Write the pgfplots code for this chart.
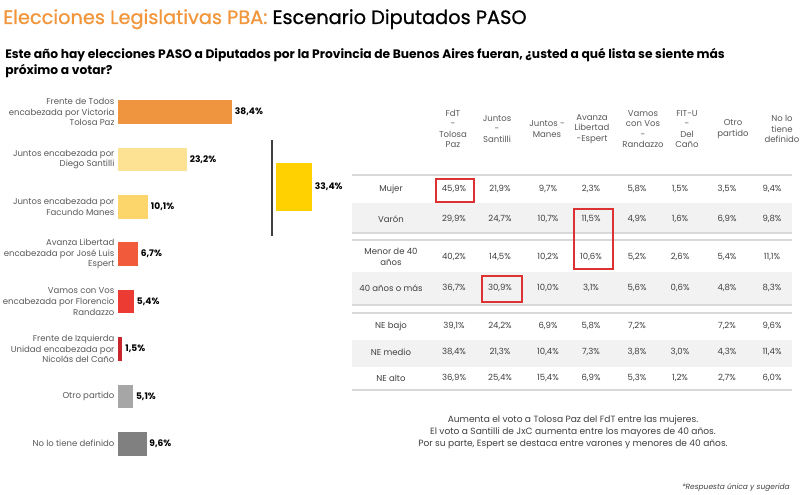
\documentclass[border=0pt]{standalone}
\usepackage{pgfplots}
\pgfplotsset{compat=1.18}
\usepackage{fontspec}
\setmainfont{Poppins}
\newfontfamily\titlefont[FakeBold=0.8]{Poppins}
\definecolor{titleorange}{RGB}{242,150,60}
\definecolor{cFdT}{RGB}{240,149,63}
\definecolor{cSant}{RGB}{253,226,147}
\definecolor{cManes}{RGB}{252,214,107}
\definecolor{cEspert}{RGB}{241,90,58}
\definecolor{cRand}{RGB}{236,59,51}
\definecolor{cFIT}{RGB}{200,37,44}
\definecolor{cOtro}{RGB}{166,166,166}
\definecolor{cNo}{RGB}{128,128,128}
\definecolor{cJxC}{RGB}{255,209,0}
\definecolor{labgray}{RGB}{89,89,89}
\definecolor{txtgray}{RGB}{64,64,64}
\definecolor{rowgray}{RGB}{242,242,242}
\definecolor{linegray}{RGB}{217,217,217}
\definecolor{boxred}{RGB}{220,50,50}
\pgfplotsset{
  pctlabels/.style={
    point meta=x,
    nodes near coords={\pgfmathprintnumber[fixed,fixed zerofill,precision=1,use comma,assume math mode=true]{\pgfplotspointmeta}\%},
    nodes near coords style={font=\fontsize{6.8}{8}\selectfont\bfseries,text=black,inner sep=2pt},
  }
}

\begin{document}
\begin{tikzpicture}
% px grid: 1px = 0.75pt, y downwards
\begin{scope}[x=0.75pt,y=-0.75pt]
\fill[white] (0,0) rectangle (800,495);
\useasboundingbox (0,0) rectangle (800,495);

% title and question
\node[anchor=base west,inner sep=0pt,font=\fontsize{14.5}{17}\titlefont] at (3,24)
  {\textcolor{titleorange}{Elecciones Legislativas PBA:} Escenario Diputados PASO};
\node[anchor=base west,inner sep=0pt,font=\fontsize{9.2}{12}\selectfont\bfseries] at (5,59)
  {Este año hay elecciones PASO a Diputados por la Provincia de Buenos Aires fueran, ¿usted a qué lista se siente más};
\node[anchor=base west,inner sep=0pt,font=\fontsize{9.2}{12}\selectfont\bfseries] at (5,75)
  {próximo a votar?};

% Juntos bracket line
\draw[txtgray,line width=1.2pt] (272,140) -- (272,236);

% table backgrounds and rules
\fill[rowgray] (352,203) rectangle (792,233);
\fill[rowgray] (352,272) rectangle (792,305);
\fill[rowgray] (352,340) rectangle (792,367);
\foreach \yy in {175,233,240,305,313,390}
  \draw[linegray,line width=1.1pt] (352,\yy) -- (792,\yy);

% headers
\begin{scope}[every node/.style={align=center,text=labgray,font=\fontsize{6.4}{7.9}\selectfont,inner sep=0pt}]
\node at (453,129) {FdT\\-\\Tolosa\\Paz};
\node at (497,129) {Juntos\\-\\Santilli};
\node at (547,129) {Juntos -\\Manes};
\node at (592,129) {Avanza\\Libertad\\-Espert};
\node at (643,129) {Vamos\\con Vos\\-\\Randazzo};
\node at (687,129) {FIT-U\\-\\Del\\Caño};
\node at (733,129) {Otro\\partido};
\node at (782,129) {No lo\\tiene\\definido};
\end{scope}

% table body
\begin{scope}[every node/.style={align=center,text=txtgray,font=\fontsize{6.4}{7.9}\selectfont,inner sep=0pt}]
\foreach \yy/\lab/\a/\b/\c/\d/\e/\f/\g/\h in {
  {189/{Mujer}/45,9\%/21,9\%/9,7\%/2,3\%/5,8\%/1,5\%/3,5\%/9,4\%},
  {219/{Varón}/29,9\%/24,7\%/10,7\%/11,5\%/4,9\%/1,6\%/6,9\%/9,8\%},
  {257/{Menor de 40\\años}/40,2\%/14,5\%/10,2\%/10,6\%/5,2\%/2,6\%/5,4\%/11,1\%},
  {288/{40 años o más}/36,7\%/30,9\%/10,0\%/3,1\%/5,6\%/0,6\%/4,8\%/8,3\%},
  {326/{NE bajo}/39,1\%/24,2\%/6,9\%/5,8\%/7,2\%/{}/7,2\%/9,6\%},
  {352/{NE medio}/38,4\%/21,3\%/10,4\%/7,3\%/3,8\%/3,0\%/4,3\%/11,4\%},
  {378/{NE alto}/36,9\%/25,4\%/15,4\%/6,9\%/5,3\%/1,2\%/2,7\%/6,0\%}}{
  \node at (391,\yy) {\lab};
  \node at (454,\yy) {\a};
  \node at (500,\yy) {\b};
  \node at (548,\yy) {\c};
  \node at (591,\yy) {\d};
  \node at (637,\yy) {\e};
  \node at (680,\yy) {\f};
  \node at (727,\yy) {\g};
  \node at (772,\yy) {\h};
}
\end{scope}

% highlight boxes
\draw[boxred,line width=0.8pt] (436,179) rectangle (474,202);
\draw[boxred,line width=0.8pt] (574,209) rectangle (613,269);
\draw[boxred,line width=0.8pt] (482,276) rectangle (522,302);

% notes
\node[align=center,text=txtgray,font=\fontsize{6.8}{9}\selectfont,inner sep=0pt] at (573,432)
  {Aumenta el voto a Tolosa Paz del FdT entre las mujeres.\\
   El voto a Santilli de JxC aumenta entre los mayores de 40 años.\\
   Por su parte, Espert se destaca entre varones y menores de 40 años.};
\node[anchor=east,text=txtgray,font=\fontsize{5.6}{7}\selectfont\itshape,inner sep=0pt] at (790,488)
  {*Respuesta única y sugerida};
\end{scope}

% main bars (118px, 88.3px)
\begin{axis}[
  at={(88.5pt,-66.2pt)}, anchor=north west,
  scale only axis, width=89.1pt, height=284.4pt,
  xbar, bar shift=0pt, bar width=17.6pt,
  xmin=0, xmax=40, ymin=-0.5, ymax=7.5, y dir=reverse,
  axis line style={draw=none}, major tick length=0pt,
  xtick=\empty, ytick={0,...,7},
  yticklabels={{Frente de Todos\\encabezada por Victoria\\Tolosa Paz},
    {Juntos encabezada por\\Diego Santilli},
    {Juntos encabezada por\\Facundo Manes},
    {Avanza Libertad\\encabezada por José Luis\\Espert},
    {Vamos con Vos\\encabezada por Florencio\\Randazzo},
    {Frente de Izquierda\\Unidad encabezada por\\Nicolás del Caño},
    {Otro partido},
    {No lo tiene definido}},
  yticklabel style={align=right,text=labgray,font=\fontsize{6.4}{7.9}\selectfont,inner sep=1pt,xshift=-1.5pt},
  clip=false, pctlabels,
  every axis plot/.append style={draw=none},
]
\addplot[fill=cFdT] coordinates {(38.4,0)};
\addplot[fill=cSant] coordinates {(23.2,1)};
\addplot[fill=cManes] coordinates {(10.1,2)};
\addplot[fill=cEspert] coordinates {(6.7,3)};
\addplot[fill=cRand] coordinates {(5.4,4)};
\addplot[fill=cFIT] coordinates {(1.5,5)};
\addplot[fill=cOtro] coordinates {(5.1,6)};
\addplot[fill=cNo] coordinates {(9.6,7)};
\end{axis}

% Juntos total bar (276px, 163px)
\begin{axis}[
  at={(207pt,-122.25pt)}, anchor=north west,
  scale only axis, width=27pt, height=36pt,
  xbar, bar shift=0pt, bar width=36pt,
  xmin=0, xmax=33.4, ymin=-0.5, ymax=0.5,
  hide axis, clip=false, pctlabels,
]
\addplot[fill=cJxC,draw=none] coordinates {(33.4,0)};
\end{axis}
\end{tikzpicture}
\end{document}
